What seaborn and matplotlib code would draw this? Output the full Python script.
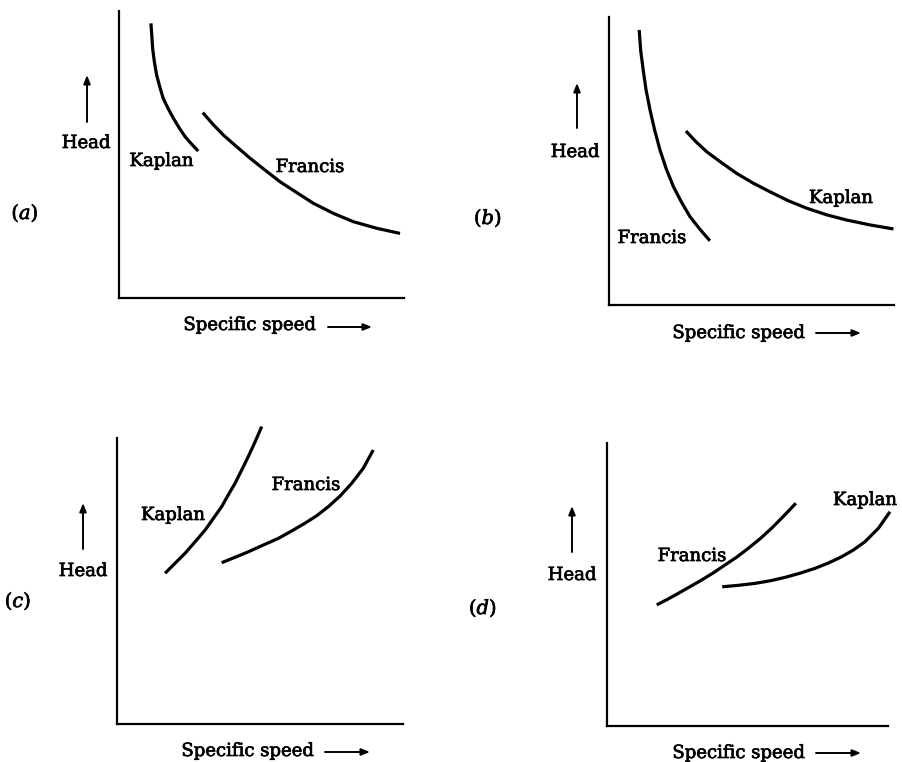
import matplotlib
matplotlib.use("Agg")
import matplotlib.pyplot as plt
import matplotlib.patheffects as pe
import seaborn as sns

sns.set_style("white")
plt.rcParams['font.family'] = ['DejaVu Serif', 'DejaVu Sans']
plt.rcParams['text.color'] = 'black'
plt.rcParams['mathtext.fontset'] = 'dejavuserif'

W, H = 902, 762

# ---- data (arbitrary units, 0-10 on each axis) ----
# panel (a)
a_kaplan_x = [1.12, 1.15, 1.18, 1.24, 1.32, 1.43, 1.55, 1.72, 1.91, 2.11, 2.32, 2.55, 2.78]
a_kaplan_y = [9.57, 9.16, 8.70, 8.23, 7.77, 7.36, 6.96, 6.61, 6.26, 5.93, 5.62, 5.36, 5.12]
a_francis_x = [2.94, 3.29, 3.66, 4.13, 4.60, 5.12, 5.65, 6.24, 6.82, 7.52, 8.22, 9.04, 9.86]
a_francis_y = [6.46, 6.06, 5.68, 5.27, 4.87, 4.46, 4.05, 3.67, 3.30, 2.95, 2.66, 2.43, 2.25]
# panel (b)
b_francis_x = [1.06, 1.11, 1.20, 1.30, 1.44, 1.60, 1.79, 2.00, 2.26, 2.55, 2.84, 3.19, 3.54]
b_francis_y = [9.55, 8.85, 8.16, 7.47, 6.77, 6.08, 5.38, 4.75, 4.11, 3.56, 3.07, 2.63, 2.23]
b_kaplan_x = [2.70, 3.05, 3.43, 3.95, 4.48, 5.06, 5.65, 6.29, 6.94, 7.64, 8.34, 9.16, 9.98]
b_kaplan_y = [6.04, 5.67, 5.32, 4.94, 4.57, 4.23, 3.93, 3.62, 3.36, 3.13, 2.95, 2.78, 2.64]
# panel (c)
c_kaplan_x = [1.68, 2.03, 2.38, 2.73, 3.08, 3.37, 3.66, 3.89, 4.13, 4.36, 4.59, 4.83, 5.06]
c_kaplan_y = [5.27, 5.62, 5.97, 6.37, 6.78, 7.19, 7.60, 8.01, 8.42, 8.88, 9.35, 9.87, 10.40]
c_francis_x = [3.66, 4.13, 4.59, 5.12, 5.64, 6.11, 6.57, 6.98, 7.39, 7.80, 8.21, 8.61, 8.96]
c_francis_y = [5.64, 5.83, 6.02, 6.26, 6.49, 6.75, 7.02, 7.28, 7.60, 7.97, 8.42, 8.94, 9.58]
# panel (d)
d_francis_x = [1.77, 2.16, 2.54, 2.95, 3.37, 3.78, 4.20, 4.62, 5.03, 5.44, 5.86, 6.27, 6.72]
d_francis_y = [4.28, 4.48, 4.69, 4.92, 5.16, 5.41, 5.69, 5.97, 6.28, 6.61, 6.99, 7.40, 7.87]
d_kaplan_x = [4.10, 4.67, 5.27, 5.80, 6.33, 6.87, 7.40, 7.88, 8.35, 8.77, 9.18, 9.66, 10.07]
d_kaplan_y = [4.92, 4.97, 5.04, 5.13, 5.25, 5.40, 5.57, 5.76, 5.98, 6.22, 6.51, 6.99, 7.57]

panel_letters = ["a", "b", "c", "d"]
x_label = "Specific speed"
y_label = "Head"

fig = plt.figure(figsize=(W / 100, H / 100), dpi=100)
fig.patch.set_facecolor("white")

heavy = [pe.withStroke(linewidth=0.5, foreground="black")]

def px_axes(left, right, top, bottom):
    return fig.add_axes([left / W, 1 - bottom / H, (right - left) / W, (bottom - top) / H])

def ftext(x, y, s, **kw):
    fig.text(x / W, 1 - y / H, s, color="black", path_effects=heavy, **kw)

def farrow(x0, y0, x1, y1):
    fig.add_artist(matplotlib.patches.FancyArrowPatch(
        (x0 / W, 1 - y0 / H), (x1 / W, 1 - y1 / H), transform=fig.transFigure,
        arrowstyle="-|>,head_length=5,head_width=2.0", color="black", lw=1.4,
        shrinkA=0, shrinkB=0))

FS = 13
boxes = [(119, 404, 11, 298), (609, 894, 17, 305), (117, 403, 438, 724), (607, 888, 443, 726)]
curves = [
    [(a_kaplan_x, a_kaplan_y), (a_francis_x, a_francis_y)],
    [(b_francis_x, b_francis_y), (b_kaplan_x, b_kaplan_y)],
    [(c_kaplan_x, c_kaplan_y), (c_francis_x, c_francis_y)],
    [(d_francis_x, d_francis_y), (d_kaplan_x, d_kaplan_y)],
]

for box, cv in zip(boxes, curves):
    ax = px_axes(*box)
    for xs, ys in cv:
        sns.lineplot(x=xs, y=ys, ax=ax, color="black", lw=2.3, sort=False,
                     estimator=None, clip_on=False, solid_joinstyle="round",
                     solid_capstyle="butt")
    ax.set_xlim(0, 10)
    ax.set_ylim(0, 10)
    ax.set_xticks([])
    ax.set_yticks([])
    sns.despine(ax=ax)
    for s in ("left", "bottom"):
        ax.spines[s].set_linewidth(1.6)
        ax.spines[s].set_color("black")
    ax.patch.set_alpha(0)

# text labels: (center x, baseline y)
labels = [
    # panel a
    (86, 148, y_label), (161.5, 166, "Kaplan"), (310, 172, "Francis"),
    (249.5, 330, x_label),
    # panel b
    (575, 157, y_label), (841, 203, "Kaplan"), (652, 243, "Francis"),
    (738.5, 338, x_label),
    # panel c
    (83, 576, y_label), (173, 520, "Kaplan"), (306, 490, "Francis"),
    (247.5, 756, x_label),
    # panel d
    (572, 580, y_label), (692, 561, "Francis"), (865, 505, "Kaplan"),
    (738.5, 758, x_label),
]
for x, y, s in labels:
    ftext(x, y, s, ha="center", va="baseline", fontsize=FS)

tags = [(25, 213), (488, 218), (18, 601), (483, 608)]
for (x, y), t in zip(tags, panel_letters):
    ftext(x, y, "($\\mathit{" + t + "}$)", ha="center", va="center", fontsize=FS + 1)

# arrows
up_arrows = [(87, 122, 75), (577, 128, 83), (83, 549, 503), (572, 552, 506)]
for x, y0, y1 in up_arrows:
    farrow(x, y0, x, y1)
right_arrows = [(328, 372, 327), (816, 861, 333), (325, 370, 752), (816, 861, 753)]
for x0, x1, y in right_arrows:
    farrow(x0, y, x1, y)

fig.savefig("out.png", dpi=100, facecolor="white")
